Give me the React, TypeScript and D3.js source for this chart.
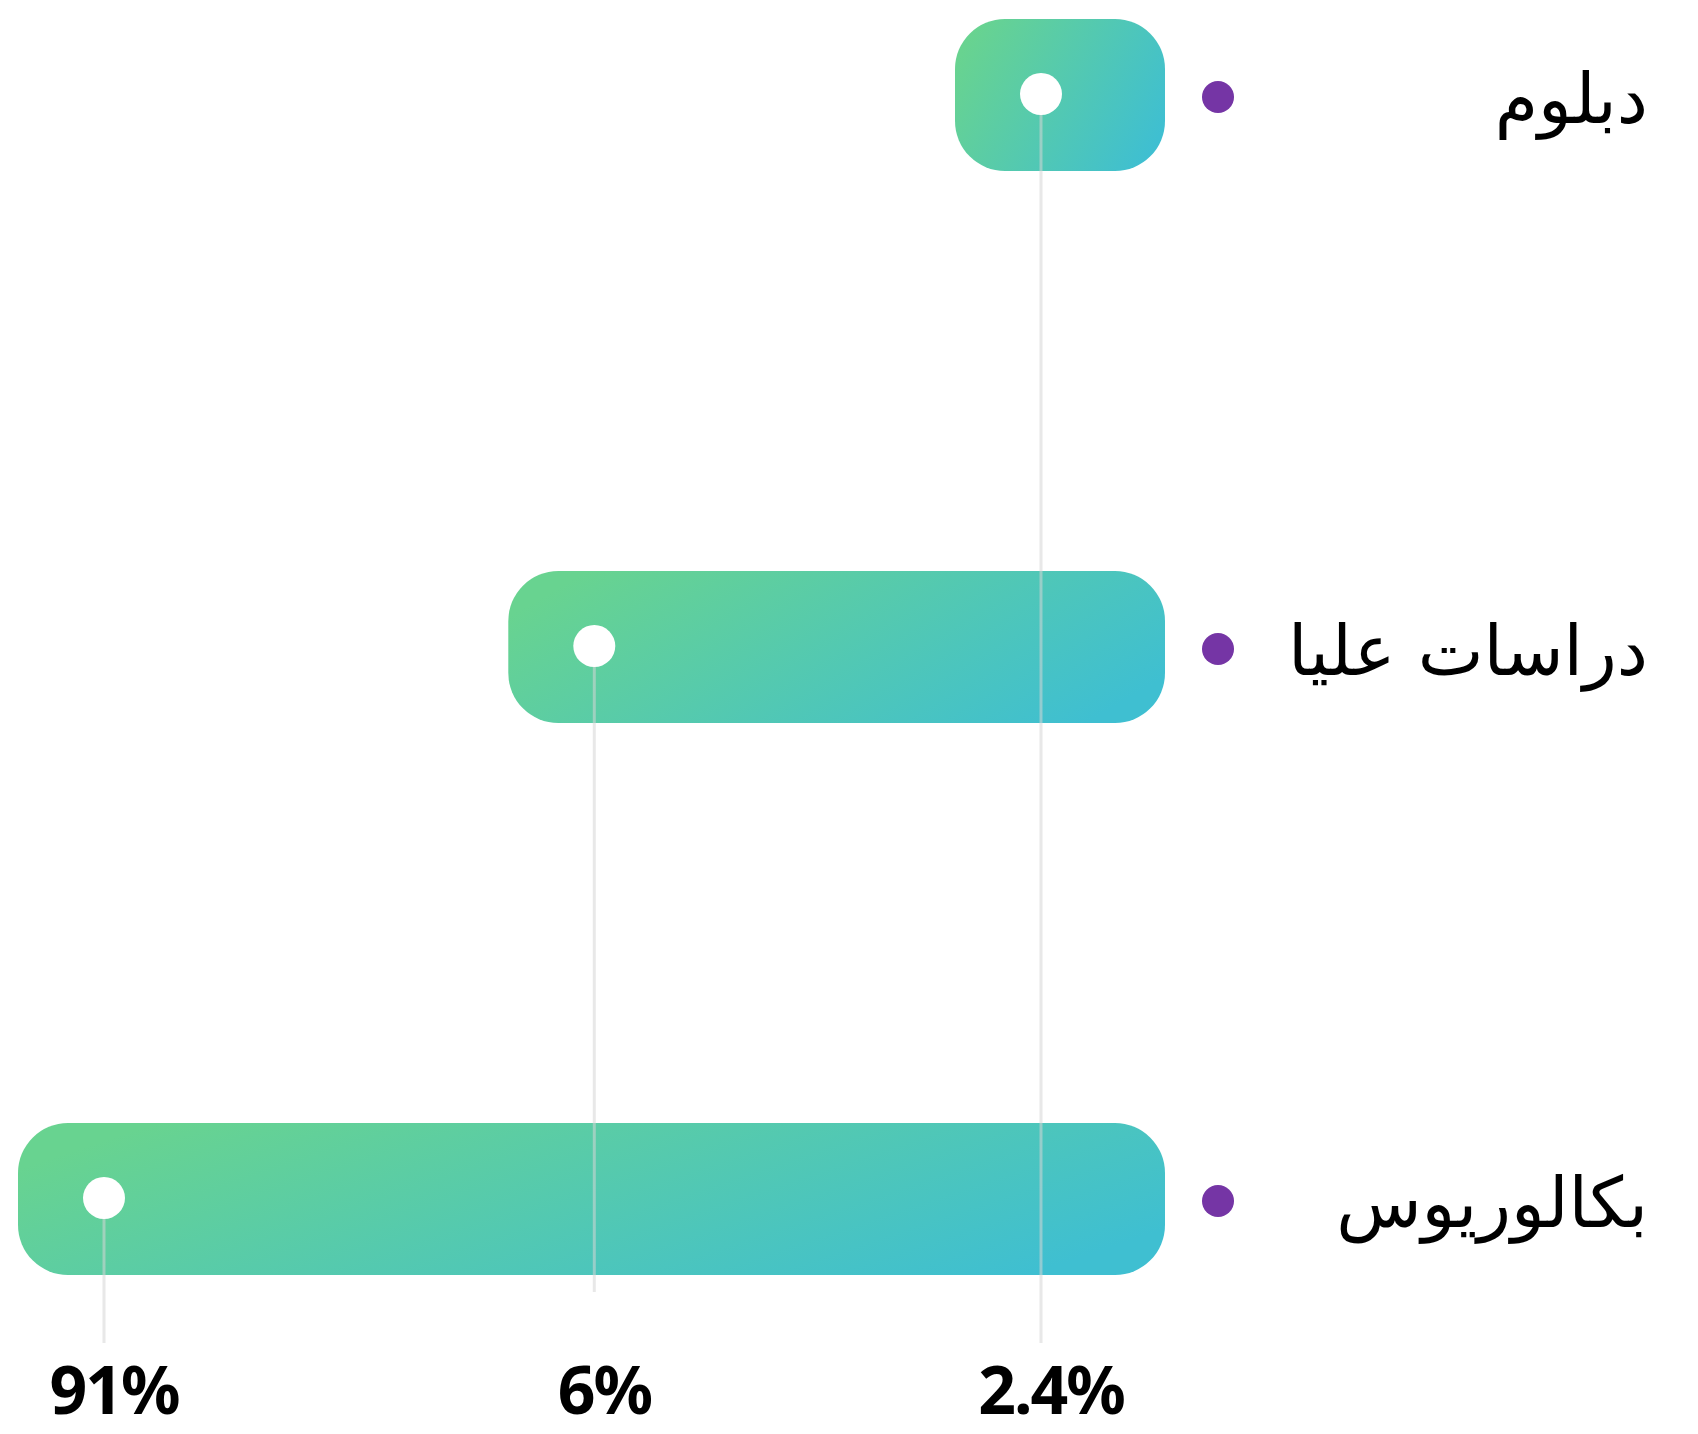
import React, { useEffect, useRef } from 'react'
import * as d3 from 'd3'

// categories (top to bottom) and their percentages
const categories: string[] = ['دبلوم', 'دراسات عليا', 'بكالوريوس']
const values: number[] = [2.4, 6, 91]
const valueLabels: string[] = ['2.4%', '6%', '91%']

const App: React.FC = () => {
  const svgRef = useRef<SVGSVGElement>(null)

  const width = 1698
  const height = 1434

  useEffect(() => {
    if (!svgRef.current) return
    const svg = d3.select(svgRef.current)
    svg.selectAll('*').remove()

    const rows = categories.map((name, i) => ({
      name,
      value: values[i],
      label: valueLabels[i],
      key: 'r' + i
    }))

    const barRight = 1165
    const barH = 152
    const top = 19
    const bottom = 1275
    const gap = (bottom - top - rows.length * barH) / (rows.length - 1)

    // vertical placement of the rows
    const yScale = d3
      .scaleBand()
      .domain(rows.map((d) => d.key))
      .range([top, bottom])
      .paddingInner(gap / (gap + barH))
      .paddingOuter(0)

    // bar length: strongly compressed scale (the infographic is not proportional)
    const wScale = d3
      .scalePow()
      .exponent(-0.6)
      .domain([d3.min(values)!, d3.max(values)!])
      .range([210, 1147])

    const defs = svg.append('defs')
    const grad = defs
      .append('linearGradient')
      .attr('id', 'barGrad')
      .attr('x1', 0)
      .attr('y1', 0.3)
      .attr('x2', 1)
      .attr('y2', 0.7)
    grad.append('stop').attr('offset', '0%').attr('stop-color', '#68d390')
    grad.append('stop').attr('offset', '100%').attr('stop-color', '#3fbfd1')

    const left = (d: any) => barRight - wScale(d.value)
    const dotX = (d: any) => left(d) + 86
    const cy = (d: any) => (yScale(d.key) ?? 0) + yScale.bandwidth() / 2

    // bars
    svg
      .selectAll('.bar')
      .data(rows)
      .enter()
      .append('rect')
      .attr('class', 'bar')
      .attr('x', (d) => left(d))
      .attr('y', (d) => yScale(d.key) ?? 0)
      .attr('width', (d) => wScale(d.value))
      .attr('height', yScale.bandwidth())
      .attr('rx', 50)
      .attr('ry', 50)
      .attr('fill', 'url(#barGrad)')

    // guide lines from the dot down to the labels
    svg
      .selectAll('.guide')
      .data(rows)
      .enter()
      .append('line')
      .attr('class', 'guide')
      .attr('x1', (d) => dotX(d))
      .attr('x2', (d) => dotX(d))
      .attr('y1', (d) => cy(d) - 1)
      .attr('y2', (d) => (d.value === 6 ? 1292 : 1343))
      .attr('stroke', '#d6d6d6')
      .attr('stroke-opacity', 0.55)
      .attr('stroke-width', 3)

    // white dots
    svg
      .selectAll('.dot')
      .data(rows)
      .enter()
      .append('circle')
      .attr('class', 'dot')
      .attr('cx', (d) => dotX(d))
      .attr('cy', (d) => cy(d) - 1)
      .attr('r', 21)
      .attr('fill', '#ffffff')

    // value labels
    svg
      .selectAll('.val')
      .data(rows)
      .enter()
      .append('text')
      .attr('class', 'val')
      .attr('x', (d) => dotX(d) + 10)
      .attr('y', 1414)
      .attr('text-anchor', 'middle')
      .style('font-family', '"Noto Sans", sans-serif')
      .style('font-weight', '700')
      .style('font-size', '66px')
      .style('letter-spacing', '-2px')
      .attr('fill', '#000000')
      .text((d) => d.label)

    // purple bullets
    svg
      .selectAll('.bullet')
      .data(rows)
      .enter()
      .append('circle')
      .attr('class', 'bullet')
      .attr('cx', 1218)
      .attr('cy', (d) => cy(d) + 2)
      .attr('r', 16)
      .attr('fill', '#7535a5')

    // category names
    svg
      .selectAll('.cat')
      .data(rows)
      .enter()
      .append('text')
      .attr('class', 'cat')
      .attr('x', 1648)
      .attr('y', (d) => cy(d) + 28)
      .attr('text-anchor', 'end')
      .style('font-family', '"DejaVu Sans", sans-serif')
      .style('font-size', '70px')
      .attr('fill', '#000000')
      .text((d) => d.name)
  }, [])

  return (
    <svg
      ref={svgRef}
      width={width}
      height={height}
      style={{ position: 'absolute', left: 0, top: 0, background: '#ffffff' }}
    ></svg>
  )
}

export default App
